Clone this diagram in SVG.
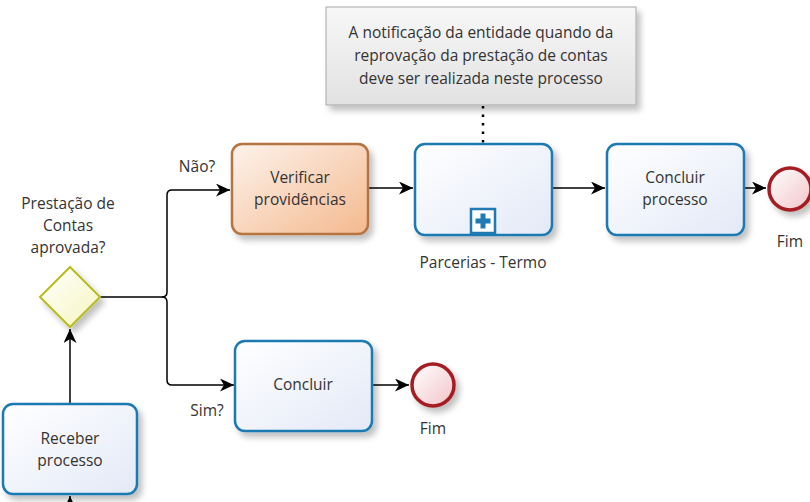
<svg xmlns="http://www.w3.org/2000/svg" width="810" height="502" viewBox="0 0 810 502">
<defs>
<linearGradient id="gBlue" x1="0" y1="0" x2="1" y2="1"><stop offset="0" stop-color="#ffffff"/><stop offset="1" stop-color="#e3e9f7"/></linearGradient>
<linearGradient id="gOrange" x1="0" y1="0" x2="1" y2="1"><stop offset="0" stop-color="#fdf3ec"/><stop offset="1" stop-color="#f4b98e"/></linearGradient>
<linearGradient id="gYellow" x1="0" y1="0" x2="1" y2="1"><stop offset="0" stop-color="#ffffff"/><stop offset="1" stop-color="#f5f5c0"/></linearGradient>
<linearGradient id="gRed" x1="0" y1="0" x2="1" y2="1"><stop offset="0" stop-color="#ffffff"/><stop offset="1" stop-color="#f2c4c8"/></linearGradient>
<linearGradient id="gGray" x1="0" y1="0" x2="0" y2="1"><stop offset="0" stop-color="#f7f7f7"/><stop offset="1" stop-color="#e2e2e2"/></linearGradient>
<filter id="sh" x="-20%" y="-20%" width="150%" height="160%"><feGaussianBlur in="SourceAlpha" stdDeviation="3"/><feOffset dx="4" dy="5"/><feComponentTransfer><feFuncA type="linear" slope="0.25"/></feComponentTransfer><feMerge><feMergeNode/><feMergeNode in="SourceGraphic"/></feMerge></filter>
<marker id="arr" markerWidth="15" markerHeight="13" refX="14" refY="6.5" orient="auto" markerUnits="userSpaceOnUse"><path d="M0,0 L14,6.5 L0,13 L4,6.5 Z" fill="#000"/></marker>
</defs>
<style>
text{font-family:"Open Sans","Noto Sans","DejaVu Sans",sans-serif;font-size:15.5px;fill:#333;text-anchor:middle}
.task{fill:url(#gBlue);stroke:#1d7ab2;stroke-width:2.5}
.conn{fill:none;stroke:#000;stroke-width:1.5}
.end{fill:url(#gRed);stroke:#a51c22;stroke-width:3.5}
</style>

<g id="connectors">
<path class="conn" d="M70,404 L70,329" marker-end="url(#arr)"/>
<path class="conn" d="M70,502 L70,496" marker-end="url(#arr)"/>
<path class="conn" d="M100,297 L162,297 Q167,297 167,292 L167,195 Q167,190 172,190 L230,190" marker-end="url(#arr)"/>
<path class="conn" d="M162,297 Q167,297 167,302 L167,380 Q167,385 172,385 L234,385" marker-end="url(#arr)"/>
<path class="conn" d="M368,188 L413,188" marker-end="url(#arr)"/>
<path class="conn" d="M552,188 L605,188" marker-end="url(#arr)"/>
<path class="conn" d="M744,188 L766,188" marker-end="url(#arr)"/>
<path class="conn" d="M372,385 L409,385" marker-end="url(#arr)"/>
<path d="M483,106 L483,143" fill="none" stroke="#000" stroke-width="2.5" stroke-dasharray="2.5,6"/>
</g>

<g id="annotation">
<rect x="326" y="7" width="310" height="98" fill="url(#gGray)" stroke="#a8a8a8" stroke-width="1" filter="url(#sh)"/>
<text x="481" y="38">A notificação da entidade quando da</text>
<text x="481" y="61">reprovação da prestação de contas</text>
<text x="481" y="84">deve ser realizada neste processo</text>
</g>

<g id="receber">
<rect class="task" x="3" y="404" width="134" height="90" rx="10" filter="url(#sh)"/>
<text x="70" y="444">Receber</text>
<text x="70" y="466">processo</text>
</g>

<g id="gateway">
<path d="M70,267 L100,297 L70,327 L40,297 Z" fill="url(#gYellow)" stroke="#b9bb1f" stroke-width="2" filter="url(#sh)"/>
<text x="68" y="209">Prestação de</text>
<text x="68" y="231">Contas</text>
<text x="68" y="253">aprovada?</text>
</g>

<g id="labels">
<text x="197" y="172">Não?</text>
<text x="207" y="416">Sim?</text>
</g>

<g id="verificar">
<rect x="232" y="144" width="136" height="90" rx="10" fill="url(#gOrange)" stroke="#b57442" stroke-width="2.5" filter="url(#sh)"/>
<text x="300" y="183">Verificar</text>
<text x="300" y="205">providências</text>
</g>

<g id="parcerias">
<rect class="task" x="415" y="144" width="137" height="91" rx="10" filter="url(#sh)"/>
<rect x="471" y="209" width="24" height="24" fill="#fff" stroke="#1d7ab2" stroke-width="2.5"/>
<path d="M483,213.5 L483,228.5 M475.5,221 L490.5,221" stroke="#1d7ab2" stroke-width="5"/>
<text x="483" y="268">Parcerias - Termo</text>
</g>

<g id="concluir-processo">
<rect class="task" x="607" y="144" width="137" height="91" rx="10" filter="url(#sh)"/>
<text x="675" y="183">Concluir</text>
<text x="675" y="205">processo</text>
</g>

<g id="fim1">
<circle class="end" cx="790" cy="189" r="21" filter="url(#sh)"/>
<text x="790" y="247">Fim</text>
</g>

<g id="concluir">
<rect class="task" x="235" y="341" width="137" height="90" rx="10" filter="url(#sh)"/>
<text x="303" y="390">Concluir</text>
</g>

<g id="fim2">
<circle class="end" cx="433" cy="385" r="21" filter="url(#sh)"/>
<text x="433" y="434">Fim</text>
</g>
</svg>
